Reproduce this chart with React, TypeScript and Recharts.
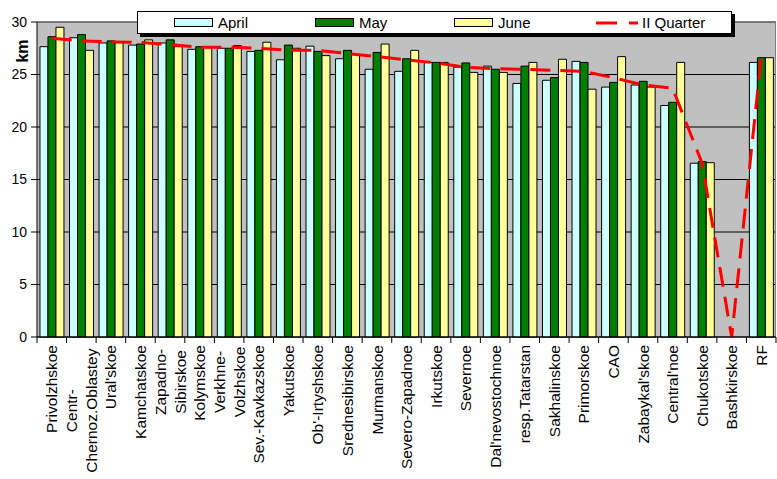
import React from 'react';
import { ComposedChart, Bar, Line, XAxis, YAxis, CartesianGrid, ReferenceLine, Legend } from 'recharts';

const categories: string[] = [
  'Privolzhskoe', 'Centr-\nChernoz.Oblastey', "Ural'skoe", 'Kamchatskoe', 'Zapadno-\nSibirskoe',
  'Kolymskoe', 'Verkhne-\nVolzhskoe', 'Sev.-Kavkazskoe', 'Yakutskoe', "Ob'-Irtyshskoe",
  'Srednesibirskoe', 'Murmanskoe', 'Severo-Zapadnoe', 'Irkutskoe', 'Severnoe',
  "Dal'nevostochnoe", 'resp.Tatarstan', 'Sakhalinskoe', 'Primorskoe', 'CAO',
  "Zabaykal'skoe", "Central'noe", 'Chukotskoe', 'Bashkirskoe', 'RF',
];

const april: (number | null)[] = [27.65, 28.5, 28.0, 27.8, 28.0, 27.4, 27.5, 27.2, 26.4, 27.7, 26.5, 25.5, 25.3, 26.15, 25.7, 25.8, 24.15, 24.45, 26.25, 23.8, 24.0, 22.05, 16.55, null, 26.15];
const may: (number | null)[] = [28.6, 28.8, 28.2, 27.9, 28.3, 27.65, 27.5, 27.3, 27.8, 27.2, 27.3, 27.1, 26.5, 26.15, 26.1, 25.5, 25.8, 24.7, 26.15, 24.25, 24.35, 22.35, 16.7, null, 26.6];
const june: (number | null)[] = [29.5, 27.3, 28.1, 28.3, 27.65, 27.55, 27.75, 28.07, 27.5, 26.8, 26.9, 27.9, 27.3, 26.15, 25.2, 25.2, 26.15, 26.45, 23.6, 26.7, 23.8, 26.15, 16.6, null, 26.6];
const quarter: number[] = [28.45, 28.2, 28.1, 28.05, 27.85, 27.6, 27.6, 27.5, 27.3, 27.3, 27.0, 26.7, 26.4, 26.1, 25.7, 25.55, 25.5, 25.4, 25.3, 24.7, 24.0, 23.7, 16.55, 0, 26.65];
const yTicks: number[] = [0, 5, 10, 15, 20, 25, 30];
const seriesNames = ['April', 'May', 'June', 'II Quarter'];

const data = categories.map((c, i) => ({
  name: c,
  april: april[i],
  may: may[i],
  june: june[i],
  quarter: quarter[i],
}));

const W = 777;
const H = 479;
const M = { top: 22, right: 1, left: 0, bottom: 0 };
const YW = 37;
const XH = 142;
const BAND = (W - M.left - M.right - YW) / categories.length;
const FONT = "Arial, 'Liberation Sans', sans-serif";
const XFS = 15.5;

const XTick = (props: any) => {
  const { x, y, payload, index } = props;
  const lines = String(payload.value).split('\n');
  const axisY = y - 8;
  const half = BAND / 2;
  const lh = 20;
  const maxLen = Math.max(...lines.map((l) => l.length));
  return (
    <g>
      <line x1={x - half} x2={x - half} y1={axisY} y2={axisY + 6} stroke="#000" />
      {index === categories.length - 1 && (
        <line x1={x + half} x2={x + half} y1={axisY} y2={axisY + 6} stroke="#000" />
      )}
      {lines.map((l, i) => {
        const off = (i - (lines.length - 1) / 2) * lh;
        if (lines.length === 1) {
          return (
            <text key={i} transform={`translate(${x},${y}) rotate(-90)`} textAnchor="end" dy="0.36em"
              fontSize={XFS} fontFamily={FONT} fill="#000">{l}</text>
          );
        }
        const cy = y + maxLen * 4.1;
        return (
          <text key={i} transform={`translate(${x + off},${cy}) rotate(-90)`} textAnchor="middle" dy="0.36em"
            fontSize={XFS} fontFamily={FONT} fill="#000">{l}</text>
        );
      })}
    </g>
  );
};

const LegendBox = () => {
  const items = [
    { name: seriesNames[0], color: '#CCFFFF', type: 'rect', left: 36 },
    { name: seriesNames[1], color: '#008000', type: 'rect', left: 177 },
    { name: seriesNames[2], color: '#FFFF99', type: 'rect', left: 316 },
    { name: seriesNames[3], color: '#FF0000', type: 'line', left: 458 },
  ];
  return (
    <div style={{
      position: 'relative', width: 593, height: 21, background: '#fff', border: '1px solid #000',
      boxShadow: '3px 3px 0 #000', fontFamily: FONT, fontSize: 15, color: '#000',
    }}>
      {items.map((it) => (
        <div key={it.name} style={{ position: 'absolute', left: it.left, top: 0, height: 21, display: 'flex', alignItems: 'center' }}>
          {it.type === 'rect' ? (
            <div style={{ width: 37, height: 7, background: it.color, border: '1px solid #000' }} />
          ) : (
            <svg width={42} height={8}>
              <line x1={0} x2={42} y1={4} y2={4} stroke={it.color} strokeWidth={3} strokeDasharray="21 12" />
            </svg>
          )}
          <span style={{ marginLeft: it.type === 'rect' ? 5 : 4, whiteSpace: 'nowrap' }}>{it.name}</span>
        </div>
      ))}
    </div>
  );
};

export default function App() {
  return (
    <div style={{ position: 'absolute', left: 0, top: 0, width: W, height: H, background: '#fff' }}>
      <ComposedChart width={W} height={H} data={data} margin={M} barCategoryGap="10%" barGap={0}>
        <CartesianGrid fill="#C0C0C0" stroke="#000" vertical={false} />
        <CartesianGrid horizontal={false} verticalPoints={[W - M.right - 0.5]} stroke="#808080" />
        <ReferenceLine y={30} stroke="#808080" />
        <XAxis dataKey="name" interval={0} height={XH} tickLine={false} tickSize={6} tickMargin={2}
          axisLine={{ stroke: '#000' }} tick={<XTick />} />
        <YAxis domain={[0, 30]} ticks={yTicks} width={YW} tickSize={6} tickMargin={4}
          axisLine={{ stroke: '#000' }} tickLine={{ stroke: '#000' }}
          tick={{ fontSize: 14, fontFamily: FONT, fill: '#000' }}
          label={{
            content: () => (
              <text transform="translate(22,51) rotate(-90)" textAnchor="middle" dy="0.36em"
                fontSize={16} fontWeight="bold" fontFamily={FONT} fill="#000">km</text>
            ),
          }} />
        <Bar dataKey="april" name={seriesNames[0]} fill="#CCFFFF" stroke="#000" strokeWidth={1} isAnimationActive={false} />
        <Bar dataKey="may" name={seriesNames[1]} fill="#008000" stroke="#000" strokeWidth={1} isAnimationActive={false} />
        <Bar dataKey="june" name={seriesNames[2]} fill="#FFFF99" stroke="#000" strokeWidth={1} isAnimationActive={false} />
        <Line dataKey="quarter" name={seriesNames[3]} type="linear" stroke="#FF0000" strokeWidth={3}
          strokeDasharray="20 10" dot={false} activeDot={false} isAnimationActive={false} />
        <Legend layout="horizontal" verticalAlign="middle" align="center" content={<LegendBox />}
          wrapperStyle={{ position: 'absolute', top: 11, left: 137, width: 600, height: 26 }} />
      </ComposedChart>
    </div>
  );
}
